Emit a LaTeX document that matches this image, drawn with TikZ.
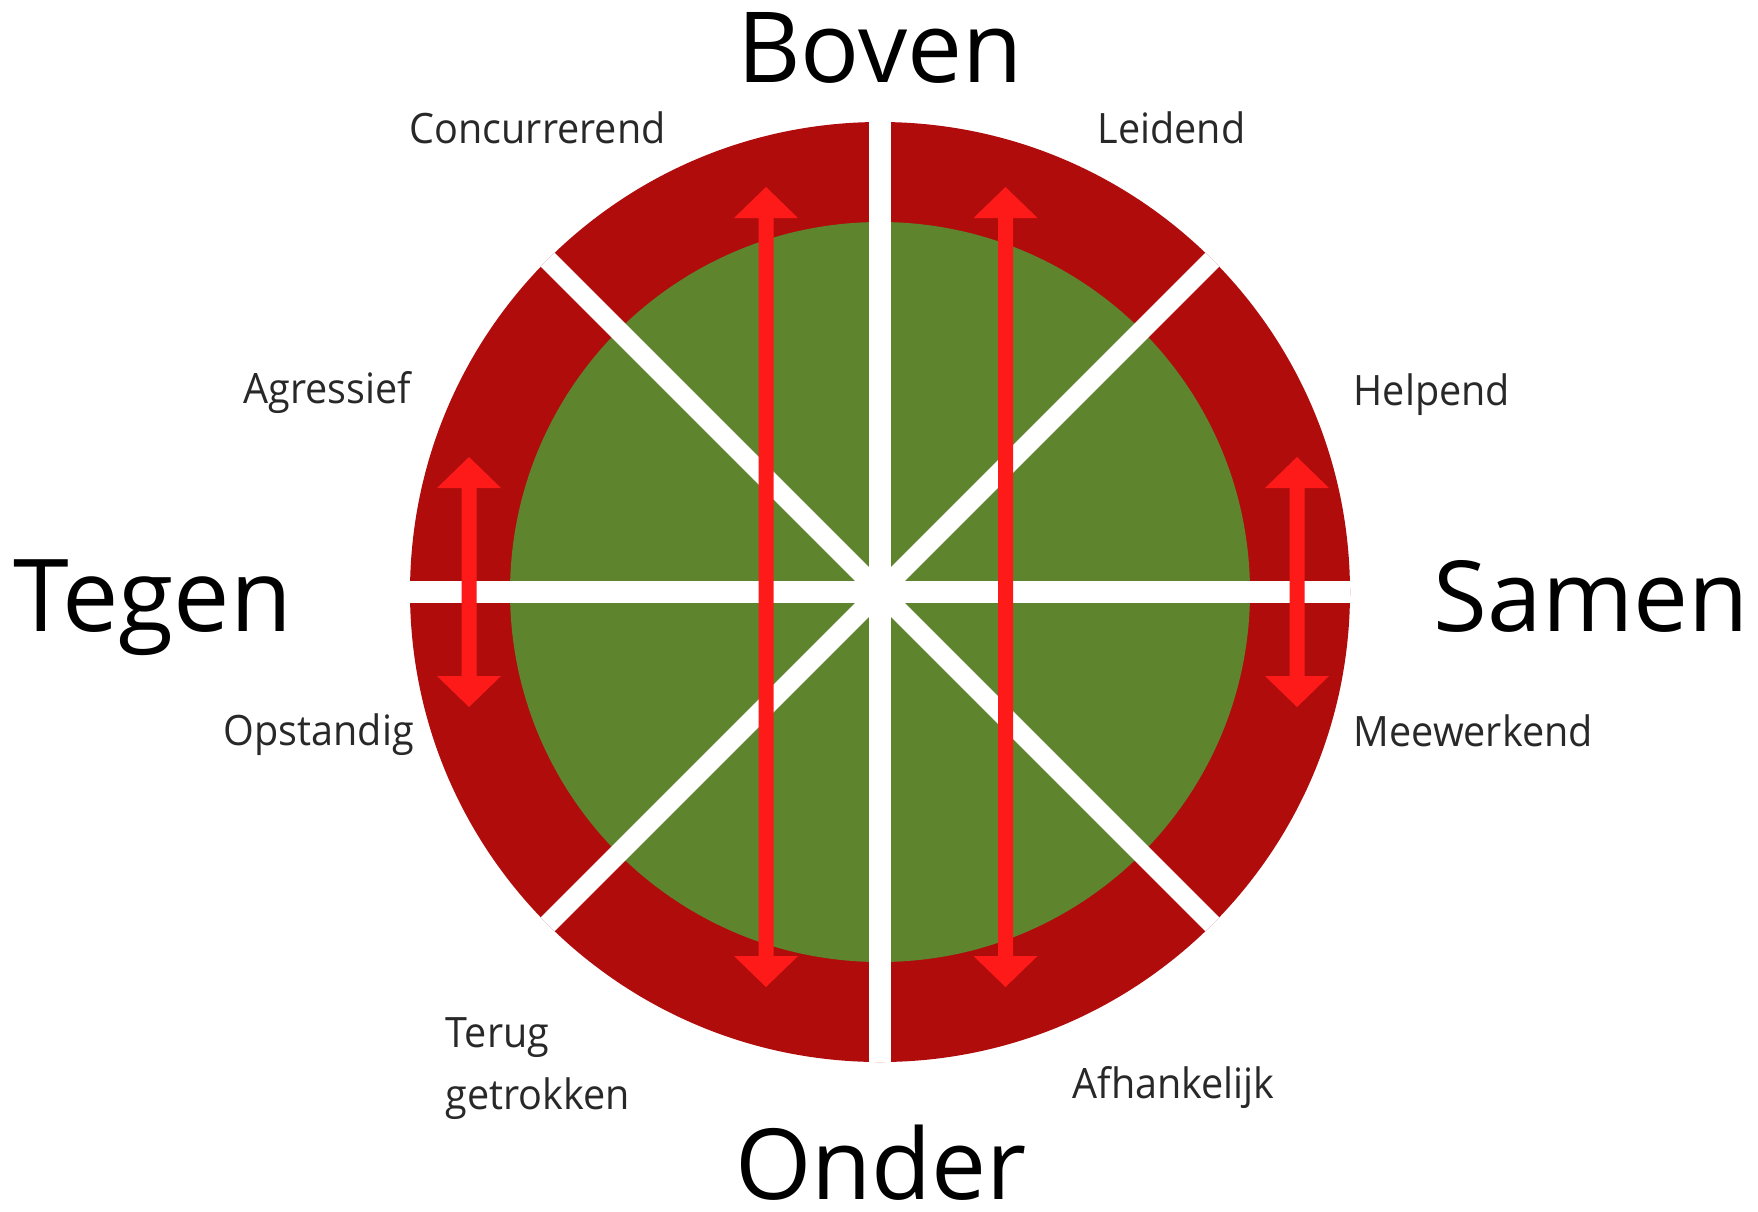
\documentclass[tikz,border=0pt]{standalone}
\usepackage{fontspec}
\setmainfont{Open Sans}
\newfontfamily\narrowlabelfont{Open Sans}[FakeStretch=0.945]
\definecolor{ringred}{RGB}{176,12,12}
\definecolor{discgreen}{RGB}{94,132,45}
\definecolor{arrowred}{RGB}{255,26,26}
\definecolor{labelgray}{RGB}{40,40,40}
\newcommand\myDblArrow[3]{%
  \fill[arrowred] (#1,#2) -- (#1+32,#2+31) -- (#1+7.5,#2+31) -- (#1+7.5,#3-31)
    -- (#1+32,#3-31) -- (#1,#3) -- (#1-32,#3-31) -- (#1-7.5,#3-31)
    -- (#1-7.5,#2+31) -- (#1-32,#2+31) -- cycle;}
\begin{document}
\begin{tikzpicture}[x=0.01cm,y=-0.01cm,
  whiteline/.style={draw=white,line width=6.2pt,line cap=butt},
  diagline/.style={draw=white,line width=5.6pt,line cap=butt},
  smalllabel/.style={font=\narrowlabelfont\fontsize{11.9}{17.6}\selectfont,text=labelgray,inner sep=0pt,anchor=base west},
  biglabel/.style={font=\fontsize{27.9}{33}\selectfont,text=black,inner sep=0pt}]
\useasboundingbox[fill=white] (0,0) rectangle (1758,1211);
\coordinate (c) at (880,592);
\fill[ringred] (c) circle[radius=470];
\fill[discgreen] (c) circle[radius=370];
% white spokes
\draw[whiteline] (880,121) -- (880,1062);
\draw[whiteline] (410,592) -- (1350,592);
\draw[diagline] (547.7,259.7) -- (1212.3,924.3);
\draw[diagline] (1212.3,259.7) -- (547.7,924.3);
% arrows
\myDblArrow{766}{187}{987}
\myDblArrow{1005.5}{187}{987}
\myDblArrow{469}{457}{707}
\myDblArrow{1297}{457}{707}
% labels
\node[biglabel,anchor=base] (boven) at (880,82) {Boven};
\node[biglabel,anchor=base,text depth=0pt] (onder) at (881,1199) {Onder};
\node[biglabel,anchor=base west,font=\fontsize{28.6}{33}\selectfont] (tegen) at (13,631) {Tegen};
\node[biglabel,anchor=base west] (samen) at (1433,631) {Samen};
\node[smalllabel] (concurrerend) at (409,143) {Concurrerend};
\node[smalllabel] (leidend) at (1097,143) {Leidend};
\node[smalllabel] (agressief) at (243,403) {Agressief};
\node[smalllabel] (helpend) at (1353,405) {Helpend};
\node[smalllabel] (opstandig) at (223,745) {Opstandig};
\node[smalllabel] (meewerkend) at (1353,746) {Meewerkend};
\node[smalllabel] (terug) at (445,1047) {Terug};
\node[smalllabel] (getrokken) at (445,1109) {getrokken};
\node[smalllabel] (afhankelijk) at (1072,1098) {Afhankelijk};
\end{tikzpicture}
\end{document}
